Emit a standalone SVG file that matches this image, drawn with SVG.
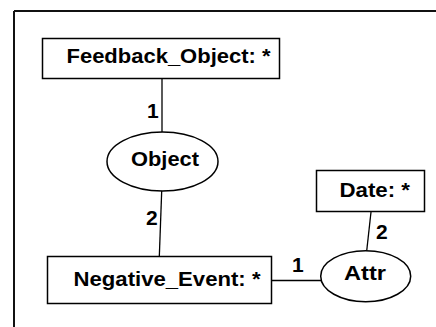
<svg xmlns="http://www.w3.org/2000/svg" width="436" height="327" viewBox="0 0 436 327">
<style>
.n{fill:#fff;stroke:#000;stroke-width:1.5}
.t{font-family:"Liberation Sans",Arial,sans-serif;font-weight:bold;font-size:21px;fill:#000}
.c{stroke:#000;stroke-width:1.3;fill:none}
</style>
<rect width="436" height="327" fill="#fff"/>
<g id="frame"><path d="M14,11 H436 M14,11 V327" stroke="#111" stroke-width="2" fill="none"/></g>
<g id="connectors">
<line class="c" x1="162" y1="79" x2="162" y2="132"/>
<line class="c" x1="161.7" y1="191" x2="159.3" y2="257"/>
<line class="c" x1="272" y1="280.5" x2="321" y2="280.5"/>
<line class="c" x1="371" y1="212" x2="366.7" y2="251"/>
<text class="t" x="147" y="118">1</text>
<text class="t" x="146" y="225">2</text>
<text class="t" x="292" y="272">1</text>
<text class="t" x="376" y="239">2</text>
</g>
<g id="feedback_object">
<rect class="n" x="42.5" y="38.5" width="237" height="40"/>
<text class="t" x="66.5" y="63" textLength="204" lengthAdjust="spacingAndGlyphs">Feedback_Object: *</text>
</g>
<g id="object">
<ellipse class="n" cx="162.5" cy="161.5" rx="55.5" ry="29.5"/>
<text class="t" x="131" y="166" textLength="68" lengthAdjust="spacingAndGlyphs">Object</text>
</g>
<g id="negative_event">
<rect class="n" x="47.5" y="256.5" width="224" height="47"/>
<text class="t" x="73.5" y="286" textLength="187" lengthAdjust="spacingAndGlyphs">Negative_Event: *</text>
</g>
<g id="attr">
<ellipse class="n" cx="365.7" cy="276.2" rx="45" ry="25.5"/>
<text class="t" x="344" y="280" textLength="42" lengthAdjust="spacingAndGlyphs">Attr</text>
</g>
<g id="date">
<rect class="n" x="316.5" y="170.5" width="108" height="41"/>
<text class="t" x="339.5" y="196.5" textLength="70.5" lengthAdjust="spacingAndGlyphs">Date: *</text>
</g>
</svg>
